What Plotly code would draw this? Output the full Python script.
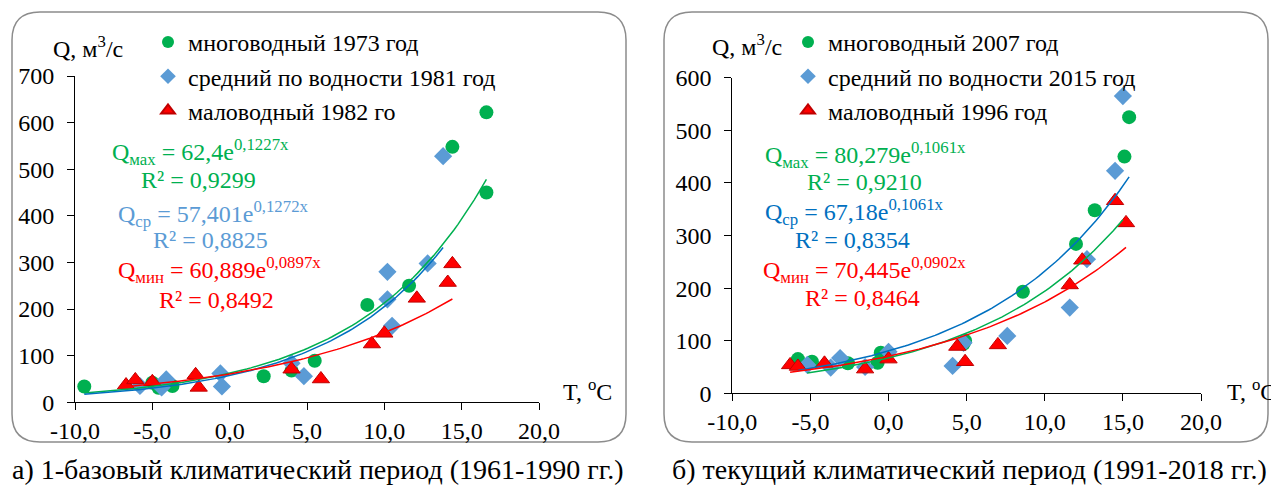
import numpy as np
import plotly.graph_objects as go

W, H = 1271, 491
FONT = "Liberation Serif"
GREEN = "#00B050"
BLUE_MK = "#5B9BD5"
BLUE_LN = "#0070C0"
RED = "#FF0000"

# ---- a) 1961-1990
a_max_t = [-9.4, -5.0, -4.6, -3.7, 2.2, 4.0, 5.5, 8.9, 11.6, 14.4, 16.6, 16.6]
a_max_q = [34, 42, 31, 35, 56, 68, 89, 209, 250, 548, 622, 450]
a_mid_t = [-5.8, -4.4, -4.1, -0.6, -0.5, 4.0, 4.8, 10.2, 10.2, 10.5, 12.8, 13.8]
a_mid_q = [35, 32, 49, 62, 34, 84, 56, 280, 221, 164, 298, 528]
a_min_t = [-6.7, -6.1, -5.0, -2.2, -2.0, 4.0, 5.9, 9.2, 10.0, 12.1, 14.1, 14.4]
a_min_q = [37, 48, 44, 59, 32, 71, 50, 125, 148, 223, 257, 297]

# trend lines: coefficient, exponent, t from, t to (green, blue, red)
a_fit_coef = [62.4, 57.401, 60.889]
a_fit_rate = [0.1227, 0.1272, 0.0897]
a_fit_from = [-9.4, -9.4, -6.7]
a_fit_to = [16.6, 13.8, 14.4]

# ---- б) 1991-2018
b_max_t = [-5.8, -4.9, -2.6, -0.5, -0.7, 4.9, 4.8, 8.6, 12.0, 13.2, 15.1, 15.4]
b_max_q = [65, 60, 57, 77, 58, 100, 94, 193, 284, 348, 450, 525]
b_mid_t = [-5.2, -3.7, -3.1, -1.5, 0.0, 4.1, 4.8, 7.6, 11.6, 12.7, 14.5, 15.0]
b_mid_q = [54, 49, 67, 50, 79, 52, 96, 109, 163, 255, 423, 565]
b_min_t = [-6.3, -5.8, -4.1, -1.5, 0.0, 4.4, 4.9, 7.0, 11.6, 12.4, 14.5, 15.2]
b_min_q = [54, 51, 57, 46, 65, 89, 60, 92, 206, 253, 366, 324]

# in the source picture the green and blue trend lines are swapped
b_fit_coef = [67.18, 80.279, 70.445]
b_fit_rate = [0.1061, 0.1061, 0.0902]
b_fit_from = [-5.2, -5.8, -6.3]
b_fit_to = [15.0, 15.4, 15.2]

x_ticks = [-10, -5, 0, 5, 10, 15, 20]
x_tick_labels = ["-10,0", "-5,0", "0,0", "5,0", "10,0", "15,0", "20,0"]
a_y_ticks = [0, 100, 200, 300, 400, 500, 600, 700]
b_y_ticks = [0, 100, 200, 300, 400, 500, 600]

a_names = ["многоводный 1973 год", "средний по водности 1981 год", "маловодный 1982 го"]
b_names = ["многоводный 2007 год", "средний по водности 2015 год", "маловодный 1996 год"]

a_eq = ["Q<sub>мах</sub> = 62,4e<sup>0,1227x</sup>", "R² = 0,9299",
        "Q<sub>ср</sub> = 57,401e<sup>0,1272x</sup>", "R² = 0,8825",
        "Q<sub>мин</sub> = 60,889e<sup>0,0897x</sup>", "R² = 0,8492"]
b_eq = ["Q<sub>мах</sub> = 80,279e<sup>0,1061x</sup>", "R² = 0,9210",
        "Q<sub>ср</sub> = 67,18e<sup>0,1061x</sup>", "R² = 0,8354",
        "Q<sub>мин</sub> = 70,445e<sup>0,0902x</sup>", "R² = 0,8464"]

captions = ["а) 1-базовый климатический период (1961-1990 гг.)",
            "б) текущий климатический период (1991-2018 гг.)"]


def px(x):
    return x / W


def py(y):
    return 1 - y / H


def box_path(x0, y0, x1, y1, r):
    # rounded rectangle in paper coords, given pixels
    pts = [
        f"M {px(x0 + r)},{py(y0)}",
        f"L {px(x1 - r)},{py(y0)}",
        f"Q {px(x1)},{py(y0)} {px(x1)},{py(y0 + r)}",
        f"L {px(x1)},{py(y1 - r)}",
        f"Q {px(x1)},{py(y1)} {px(x1 - r)},{py(y1)}",
        f"L {px(x0 + r)},{py(y1)}",
        f"Q {px(x0)},{py(y1)} {px(x0)},{py(y1 - r)}",
        f"L {px(x0)},{py(y0 + r)}",
        f"Q {px(x0)},{py(y0)} {px(x0 + r)},{py(y0)}",
        "Z",
    ]
    return " ".join(pts)


fig = go.Figure()

marker_styles = [
    dict(symbol="circle", size=14, color=GREEN),
    dict(symbol="diamond", size=14, color=BLUE_MK),
    dict(symbol="triangle-up", size=15, color=RED, line=dict(color="#C00000", width=1)),
]


def add_panel(series, names, coefs, rates, t0s, t1s, line_colors, xa, ya, leg):
    for (t, q), name, mk in zip(series, names, marker_styles):
        fig.add_trace(go.Scatter(x=t, y=q, mode="markers", name=name, marker=mk,
                                 xaxis=xa, yaxis=ya, legend=leg))
    for c, k, t0, t1, col in zip(coefs, rates, t0s, t1s, line_colors):
        tt = np.linspace(t0, t1, 100)
        fig.add_trace(go.Scatter(x=tt, y=c * np.exp(k * tt), mode="lines",
                                 line=dict(color=col, width=1.5), showlegend=False,
                                 hoverinfo="skip", xaxis=xa, yaxis=ya))


add_panel([(a_max_t, a_max_q), (a_mid_t, a_mid_q), (a_min_t, a_min_q)], a_names,
          a_fit_coef, a_fit_rate, a_fit_from, a_fit_to, [GREEN, BLUE_LN, RED], "x", "y", "legend")
add_panel([(b_max_t, b_max_q), (b_mid_t, b_mid_q), (b_min_t, b_min_q)], b_names,
          b_fit_coef, b_fit_rate, b_fit_from, b_fit_to, [GREEN, BLUE_LN, RED], "x2", "y2", "legend2")

FS = 24
axis_common = dict(showline=True, linecolor="black", linewidth=1, ticks="outside",
                   ticklen=7, tickcolor="black", showgrid=False, zeroline=False,
                   automargin=False,
                   tickfont=dict(family=FONT, size=FS, color="black"))

leg_common = dict(xanchor="left", yanchor="top",
                  font=dict(family=FONT, size=FS, color="black"),
                  bgcolor="rgba(0,0,0,0)", itemsizing="constant", tracegroupgap=0)

fig.update_layout(
    width=W, height=H,
    margin=dict(l=0, r=0, t=0, b=0, pad=0),
    paper_bgcolor="white", plot_bgcolor="white",
    xaxis=dict(domain=[px(75), px(539)], range=[-10, 20], tickvals=x_ticks,
               ticktext=x_tick_labels, anchor="y", **axis_common),
    yaxis=dict(domain=[py(402.3), py(76)], range=[0, 700], tickvals=a_y_ticks,
               anchor="x", ticklabelstandoff=8, **axis_common),
    xaxis2=dict(domain=[px(732.3), px(1201)], range=[-10, 20], tickvals=x_ticks,
                ticktext=x_tick_labels, anchor="y2", **axis_common),
    yaxis2=dict(domain=[py(393.3), py(77.7)], range=[0, 600], tickvals=b_y_ticks,
                anchor="x2", ticklabelstandoff=8, **axis_common),
    legend=dict(x=px(148), y=py(20), **leg_common),
    legend2=dict(x=px(788), y=py(20), **leg_common),
    showlegend=True,
)

# panel frames
fig.add_shape(type="path", xref="paper", yref="paper", path=box_path(12, 12, 626, 442, 28),
              line=dict(color="#8C8C8C", width=1.5), layer="below")
fig.add_shape(type="path", xref="paper", yref="paper", path=box_path(664, 12, 1268, 442, 28),
              line=dict(color="#8C8C8C", width=1.5), layer="below")

txt = dict(family=FONT, size=FS)

# equations
a_pos = [(110, 152), (139, 180), (116, 214), (151, 240), (116, 270), (157, 300)]
a_col = [GREEN, GREEN, BLUE_MK, BLUE_MK, RED, RED]
for s, (x, y), c in zip(a_eq, a_pos, a_col):
    fig.add_annotation(text=s, x=px(x), y=py(y), xref="paper", yref="paper",
                       xanchor="left", yanchor="middle", showarrow=False,
                       font=dict(color=c, **txt))
b_pos = [(763, 155), (805, 182), (763, 212), (793, 240), (761, 270), (803, 298)]
b_col = [GREEN, GREEN, BLUE_LN, BLUE_LN, RED, RED]
for s, (x, y), c in zip(b_eq, b_pos, b_col):
    fig.add_annotation(text=s, x=px(x), y=py(y), xref="paper", yref="paper",
                       xanchor="left", yanchor="middle", showarrow=False,
                       font=dict(color=c, **txt))

# axis titles
for x, y in [(51, 47), (710, 45)]:
    fig.add_annotation(text="Q, м<sup>3</sup>/с", x=px(x), y=py(y), xref="paper", yref="paper",
                       xanchor="left", yanchor="middle", showarrow=False,
                       font=dict(color="black", **txt))
for x, y in [(561, 390), (1225, 390)]:
    fig.add_annotation(text="T, <sup>o</sup>C", x=px(x), y=py(y), xref="paper", yref="paper",
                       xanchor="left", yanchor="middle", showarrow=False,
                       font=dict(color="black", **txt))

# captions
for s, x in zip(captions, [318, 969]):
    fig.add_annotation(text=s, x=px(x), y=py(469), xref="paper", yref="paper",
                       xanchor="center", yanchor="middle", showarrow=False,
                       font=dict(color="black", family=FONT, size=28))

fig.write_html("out.html", config={"displayModeBar": False},
               post_script="document.body.style.margin='0';")
